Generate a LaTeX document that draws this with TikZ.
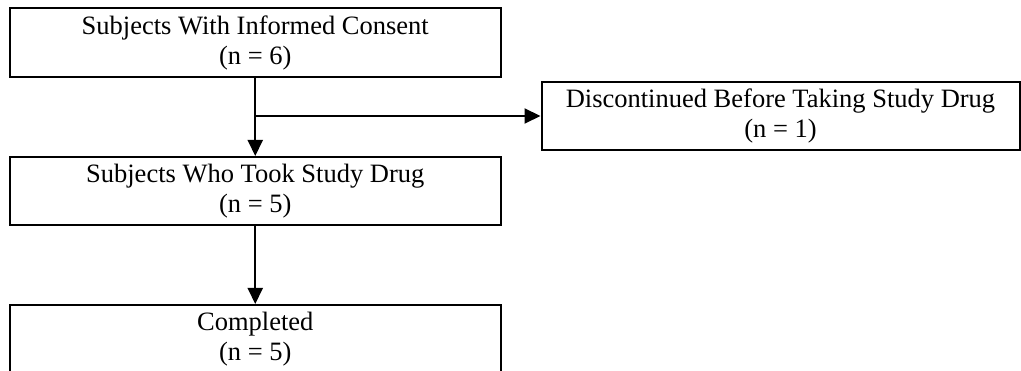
\documentclass[tikz,border=0pt]{standalone}
\usepackage{fontspec}
\setmainfont{Liberation Serif}
\usetikzlibrary{arrows.meta}
\begin{document}
\begin{tikzpicture}[x=1pt,y=-1pt,
  box/.style={draw=black,line width=2pt,fill=white,inner sep=0pt,
    minimum width=491.5pt,minimum height=68.5pt,align=center,
    font=\fontsize{26.5}{30.5}\selectfont},
  conn/.style={line width=2pt,-{Triangle[width=15pt,length=16pt]}}]
\clip (0,0) rectangle (1021,371);
\node[box] (b1) at (255.25,42.75) {Subjects With Informed Consent\\(n = 6)};
\node[box,minimum width=478pt,minimum height=68pt] (b2) at (780.5,116) {Discontinued Before Taking Study Drug\\(n = 1)};
\node[box] (b3) at (255.25,191.25) {Subjects Who Took Study Drug\\(n = 5)};
\node[box] (b4) at (255.25,339.25) {Completed\\(n = 5)};
\draw[conn] (b1.south) -- (b3.north);
\draw[conn] (b1.south |- b2.west) -- (b2.west);
\draw[conn] (b3.south) -- (b4.north);
\end{tikzpicture}
\end{document}
